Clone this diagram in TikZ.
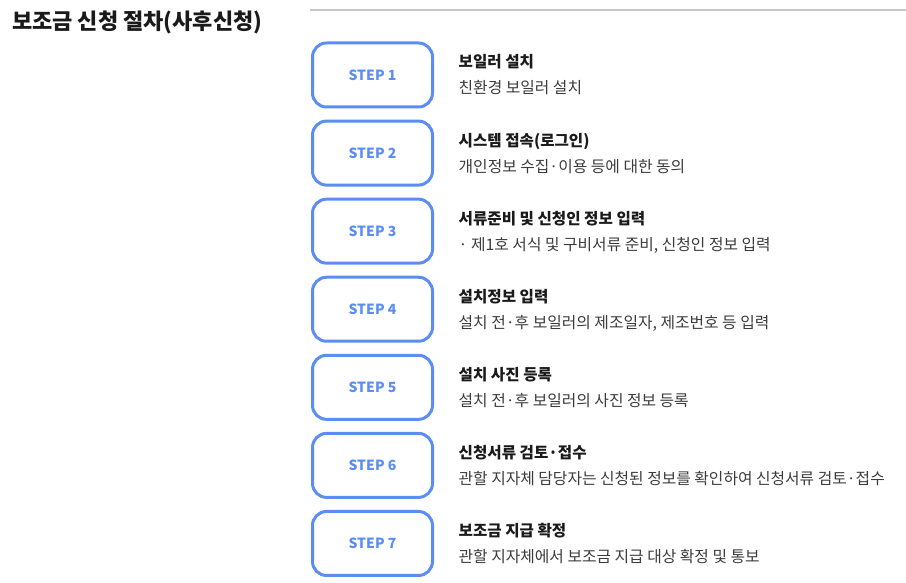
\documentclass[tikz,border=0pt]{standalone}
\usepackage{fontspec}
\setmainfont{Noto Sans CJK KR}
\usepackage{tikz}
\usetikzlibrary{calc,positioning}
\definecolor{stepblue}{HTML}{5B8DF3}
\definecolor{titlegray}{HTML}{1A1A1A}
\definecolor{descgray}{HTML}{3C3C3C}
\definecolor{rulegray}{HTML}{C8C8C8}
\tikzstyle{stepbox} = [rectangle, draw=stepblue, line width=3pt, rounded corners=14pt, minimum width=120pt, minimum height=64pt, text=stepblue, font=\fontsize{14}{16}\selectfont\bfseries]
\tikzstyle{steptitle} = [anchor=base west, inner sep=0pt, text=titlegray, font=\fontsize{15.6}{18}\selectfont\bfseries]
\tikzstyle{stepdesc} = [anchor=base west, inner sep=0pt, text=descgray, font=\fontsize{15.8}{18}\selectfont]

\begin{document}
\begin{tikzpicture}[x=1pt, y=-1pt, node distance=78.08pt]
        \useasboundingbox (0,0) rectangle (906,583);
        \node (heading) [anchor=base west, inner sep=0pt, text=titlegray, font=\fontsize{22}{26}\selectfont\bfseries] at (12,30) {보조금 신청 절차(사후신청)};
        \coordinate (ruleL) at (310,10);
        \coordinate (ruleR) at (906,10);
        \draw [rulegray, line width=1.5pt] (ruleL) -- (ruleR);
        \node (step1) [stepbox] at (372.5,75) {STEP 1};
        \node (step2) [stepbox, below of = step1] {STEP 2};
        \node (step3) [stepbox, below of = step2] {STEP 3};
        \node (step4) [stepbox, below of = step3] {STEP 4};
        \node (step5) [stepbox, below of = step4] {STEP 5};
        \node (step6) [stepbox, below of = step5] {STEP 6};
        \node (step7) [stepbox, below of = step6] {STEP 7};
        % titles and descriptions right of each box
        \node (title1) [steptitle] at ($(step1.east)+(24.5,-7)$) {보일러 설치};
        \node (desc1) [stepdesc] at ($(step1.east)+(24.5,19)$) {친환경 보일러 설치};
        \node (title2) [steptitle] at ($(step2.east)+(24.5,-7)$) {시스템 접속(로그인)};
        \node (desc2) [stepdesc] at ($(step2.east)+(24.5,19)$) {개인정보 수집·이용 등에 대한 동의};
        \node (title3) [steptitle] at ($(step3.east)+(24.5,-7)$) {서류준비 및 신청인 정보 입력};
        \node (desc3) [stepdesc] at ($(step3.east)+(24.5,19)$) {· 제1호 서식 및 구비서류 준비, 신청인 정보 입력};
        \node (title4) [steptitle] at ($(step4.east)+(24.5,-7)$) {설치정보 입력};
        \node (desc4) [stepdesc] at ($(step4.east)+(24.5,19)$) {설치 전·후 보일러의 제조일자, 제조번호 등 입력};
        \node (title5) [steptitle] at ($(step5.east)+(24.5,-7)$) {설치 사진 등록};
        \node (desc5) [stepdesc] at ($(step5.east)+(24.5,19)$) {설치 전·후 보일러의 사진 정보 등록};
        \node (title6) [steptitle] at ($(step6.east)+(24.5,-7)$) {신청서류 검토·접수};
        \node (desc6) [stepdesc] at ($(step6.east)+(24.5,19)$) {관할 지자체 담당자는 신청된 정보를 확인하여 신청서류 검토·접수};
        \node (title7) [steptitle] at ($(step7.east)+(24.5,-7)$) {보조금 지급 확정};
        \node (desc7) [stepdesc] at ($(step7.east)+(24.5,19)$) {관할 지자체에서 보조금 지급 대상 확정 및 통보};
    \end{tikzpicture}
\end{document}
